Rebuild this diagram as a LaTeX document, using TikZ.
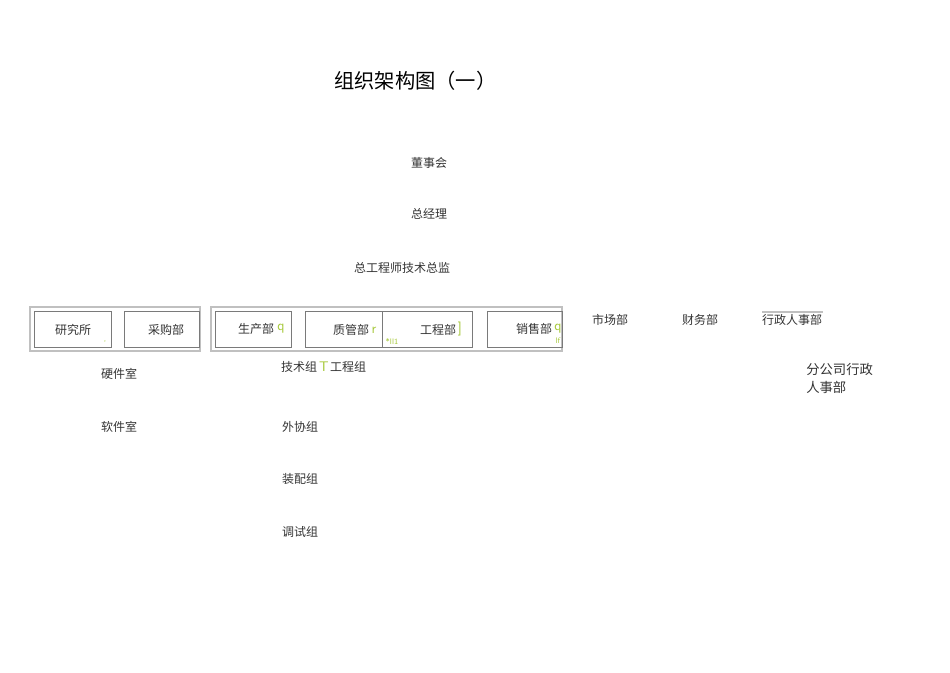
\documentclass[tikz,border=0pt]{standalone}
\usepackage{fontspec}
\newfontfamily\cjk{Noto Sans CJK SC}
\setmainfont{Liberation Serif}
\definecolor{txt}{HTML}{333333}
\definecolor{grn}{HTML}{A6C83A}
\definecolor{boxline}{HTML}{7A7A7A}
\definecolor{outline}{HTML}{C0C0C0}
\begin{document}
\begin{tikzpicture}[x=0.75pt,y=-0.75pt,
  lbl/.style={inner sep=0pt,font=\cjk\fontsize{9}{11}\selectfont,text=txt},
  title/.style={inner sep=0pt,font=\cjk\fontsize{15.2}{18}\selectfont,text=black},
  gr/.style={inner sep=0pt,font=\sffamily\fontsize{10.5}{11}\selectfont,text=grn},
  grs/.style={inner sep=0pt,font=\sffamily\fontsize{6}{7}\selectfont,text=grn},
  outerbox/.style={draw=outline,line width=0.8pt},
  innerbox/.style={draw=boxline,line width=0.6pt}]
\useasboundingbox (0,0) rectangle (950,672);
\node[title,anchor=west] (title) at (334,81) {组织架构图（一）};
\node[lbl] (dsh) at (429,163) {董事会};
\node[lbl] (zjl) at (429,214) {总经理};
\node[lbl] (zgcs) at (402,268) {总工程师技术总监};
% outer boxes
\draw[outerbox] (30,307) rectangle (200,351);
\draw[outerbox] (211,307) rectangle (562,351);
% inner boxes
\draw[innerbox] (34,311) rectangle (111,347);
\draw[innerbox] (124,311) rectangle (199,347);
\draw[innerbox] (215,311) rectangle (291,347);
\draw[innerbox] (305,311) rectangle (472,347);
\draw[innerbox] (382,311) -- (382,347);
\draw[innerbox] (487,311) rectangle (562,347);
\node[lbl] (yjs) at (73,330) {研究所};
\node[grs] (g1) at (105,342) {,};
\node[lbl] (cgb) at (166,330) {采购部};
\node[lbl] (scb) at (256,329) {生产部};
\node[gr] (gq1) at (281,329) {q};
\node[lbl] (zgb) at (351,330) {质管部};
\node[gr] (gr1) at (374,330) {r};
\node[lbl] (gcb) at (438,330) {工程部};
\node[gr] (gb1) at (460,329) {]};
\node[grs] (gs1) at (392,341) {*ll1};
\node[lbl] (xsb) at (534,329) {销售部};
\node[gr] (gq2) at (558,329) {q};
\node[grs] (gs2) at (558,341) {lf};
\node[lbl] (scb2) at (610,320) {市场部};
\node[lbl] (cwb) at (700,320) {财务部};
\node[lbl] (xzrs) at (792,320) {行政人事部};
\draw[outline,line width=0.8pt] (762,312) -- (823,312);
\node[lbl] (yjsh) at (119,374) {硬件室};
\node[lbl] (rjs) at (119,427) {软件室};
\node[lbl] (jsz) at (299,367) {技术组};
\node[gr] (gt) at (324,367) {T};
\node[lbl] (gcz) at (348,367) {工程组};
\node[lbl] (wxz) at (300,427) {外协组};
\node[lbl] (zpz) at (300,479) {装配组};
\node[lbl] (tsz) at (300,532) {调试组};
\node[lbl,font=\cjk\fontsize{10}{13.5}\selectfont,align=left,anchor=north west] (fgs) at (806,363) {分公司行政\\人事部};
\end{tikzpicture}
\end{document}
